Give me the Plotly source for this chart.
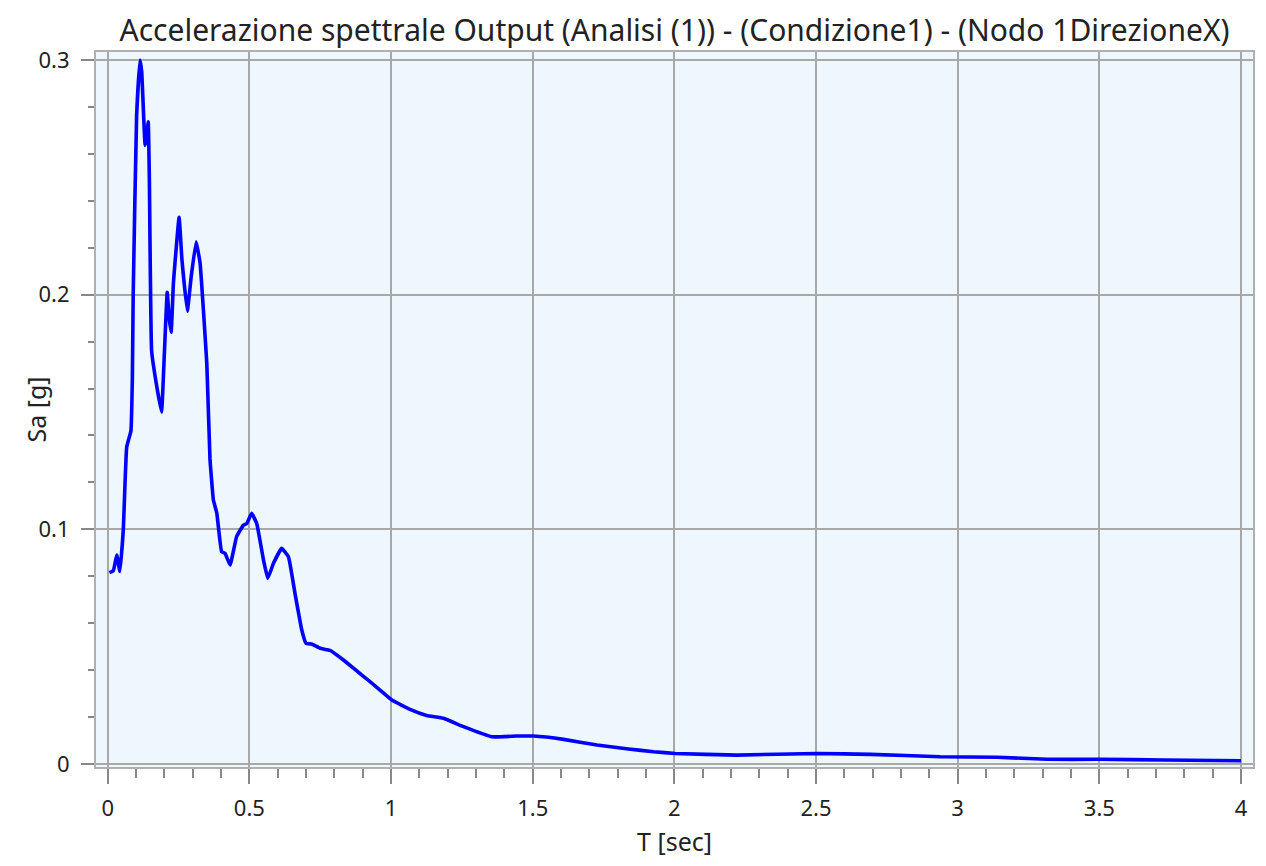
import plotly.graph_objects as go

T = [0.006, 0.020, 0.032, 0.043, 0.055, 0.067, 0.082, 0.087, 0.090, 0.102, 0.114, 0.120,
     0.132, 0.136, 0.143, 0.147, 0.155, 0.173, 0.190, 0.200, 0.210, 0.217, 0.224, 0.232,
     0.252, 0.262, 0.281, 0.295, 0.312, 0.326, 0.350, 0.361, 0.373, 0.385, 0.402, 0.414,
     0.432, 0.455, 0.479, 0.491, 0.508, 0.526, 0.550, 0.565, 0.585, 0.614, 0.638, 0.661,
     0.685, 0.700, 0.720, 0.750, 0.785, 0.832, 0.897, 0.926, 1.003, 1.067, 1.126, 1.185,
     1.256, 1.356, 1.444, 1.503, 1.609, 1.727, 1.838, 1.927, 2.003, 2.221, 2.503, 2.692,
     2.939, 3.139, 3.316, 3.498, 3.727, 4.000]
Sa = [0.0815, 0.0824, 0.0890, 0.0820, 0.0997, 0.1350, 0.1420, 0.1640, 0.2000, 0.2760, 0.3000, 0.2950,
      0.2637, 0.2660, 0.2737, 0.2500, 0.1760, 0.1610, 0.1500, 0.1750, 0.2010, 0.1900, 0.1840, 0.2050,
      0.2330, 0.2150, 0.1930, 0.2080, 0.2225, 0.2135, 0.1700, 0.1300, 0.1125, 0.1070, 0.0905, 0.0898,
      0.0848, 0.0969, 0.1018, 0.1025, 0.1068, 0.1025, 0.0869, 0.0791, 0.0855, 0.0919, 0.0883, 0.0727,
      0.0571, 0.0514, 0.0511, 0.0493, 0.0484, 0.0443, 0.0379, 0.0351, 0.0273, 0.0233, 0.0207, 0.0195,
      0.0159, 0.0116, 0.0119, 0.0119, 0.0105, 0.0081, 0.0064, 0.0052, 0.0045, 0.0038, 0.0045, 0.0041,
      0.0031, 0.0029, 0.0020, 0.0020, 0.0017, 0.0014]

x_ticks = [0, 0.5, 1, 1.5, 2, 2.5, 3, 3.5, 4]
x_labels = ["0", "0.5", "1", "1.5", "2", "2.5", "3", "3.5", "4"]
y_ticks = [0, 0.1, 0.2, 0.3]
y_labels = ["0", "0.1", "0.2", "0.3"]

title_text = "Accelerazione spettrale Output (Analisi (1)) - (Condizione1) - (Nodo 1DirezioneX)"

fig = go.Figure()
fig.add_trace(go.Scatter(x=T, y=Sa, mode="lines",
                         line=dict(color="#0000FF", width=3.6, shape="spline", smoothing=0.3),
                         showlegend=False, hoverinfo="x+y"))

font_family = "Noto Sans, Open Sans, DejaVu Sans, sans-serif"
grid_color = "#A8A8A8"

fig.update_layout(
    width=1250, height=850,
    margin=dict(l=88, r=5, t=44, b=91),
    paper_bgcolor="white",
    plot_bgcolor="#EEF6FE",
    font=dict(family=font_family, color="#222222", size=22),
    title=dict(text=title_text, x=0.5332, xanchor="center", y=0.973, yanchor="middle",
               font=dict(size=30, color="#222222")),
    annotations=[dict(text="Sa [g]", xref="paper", yref="paper", x=0, y=0.5,
                      xanchor="center", yanchor="middle", xshift=-61, textangle=-90,
                      showarrow=False, font=dict(size=25, color="#222222"))],
)

fig.update_xaxes(
    range=[-0.0413, 4.0424],
    tickvals=x_ticks, ticktext=x_labels,
    ticks="outside", ticklen=15, tickwidth=2, tickcolor="#888888",
    minor=dict(dtick=0.1, ticks="outside", ticklen=9, tickwidth=2, tickcolor="#888888", showgrid=False),
    showgrid=True, gridcolor=grid_color, gridwidth=2,
    zeroline=False, automargin=False, ticklabelstandoff=6,
    showline=True, linecolor="#B0B0B0", linewidth=2, mirror=True,
    title=dict(text="T [sec]", font=dict(size=25), standoff=14),
    tickfont=dict(size=22),
)
fig.update_yaxes(
    range=[-0.00128, 0.3034],
    tickvals=y_ticks, ticktext=y_labels,
    ticks="outside", ticklen=13, tickwidth=2, tickcolor="#888888",
    minor=dict(dtick=0.02, ticks="outside", ticklen=6, tickwidth=2, tickcolor="#888888", showgrid=False),
    showgrid=True, gridcolor=grid_color, gridwidth=2,
    zeroline=False, automargin=False, ticklabelstandoff=7,
    showline=True, linecolor="#B0B0B0", linewidth=2, mirror=True,
    tickfont=dict(size=22),
)

fig.write_html("out.html")
